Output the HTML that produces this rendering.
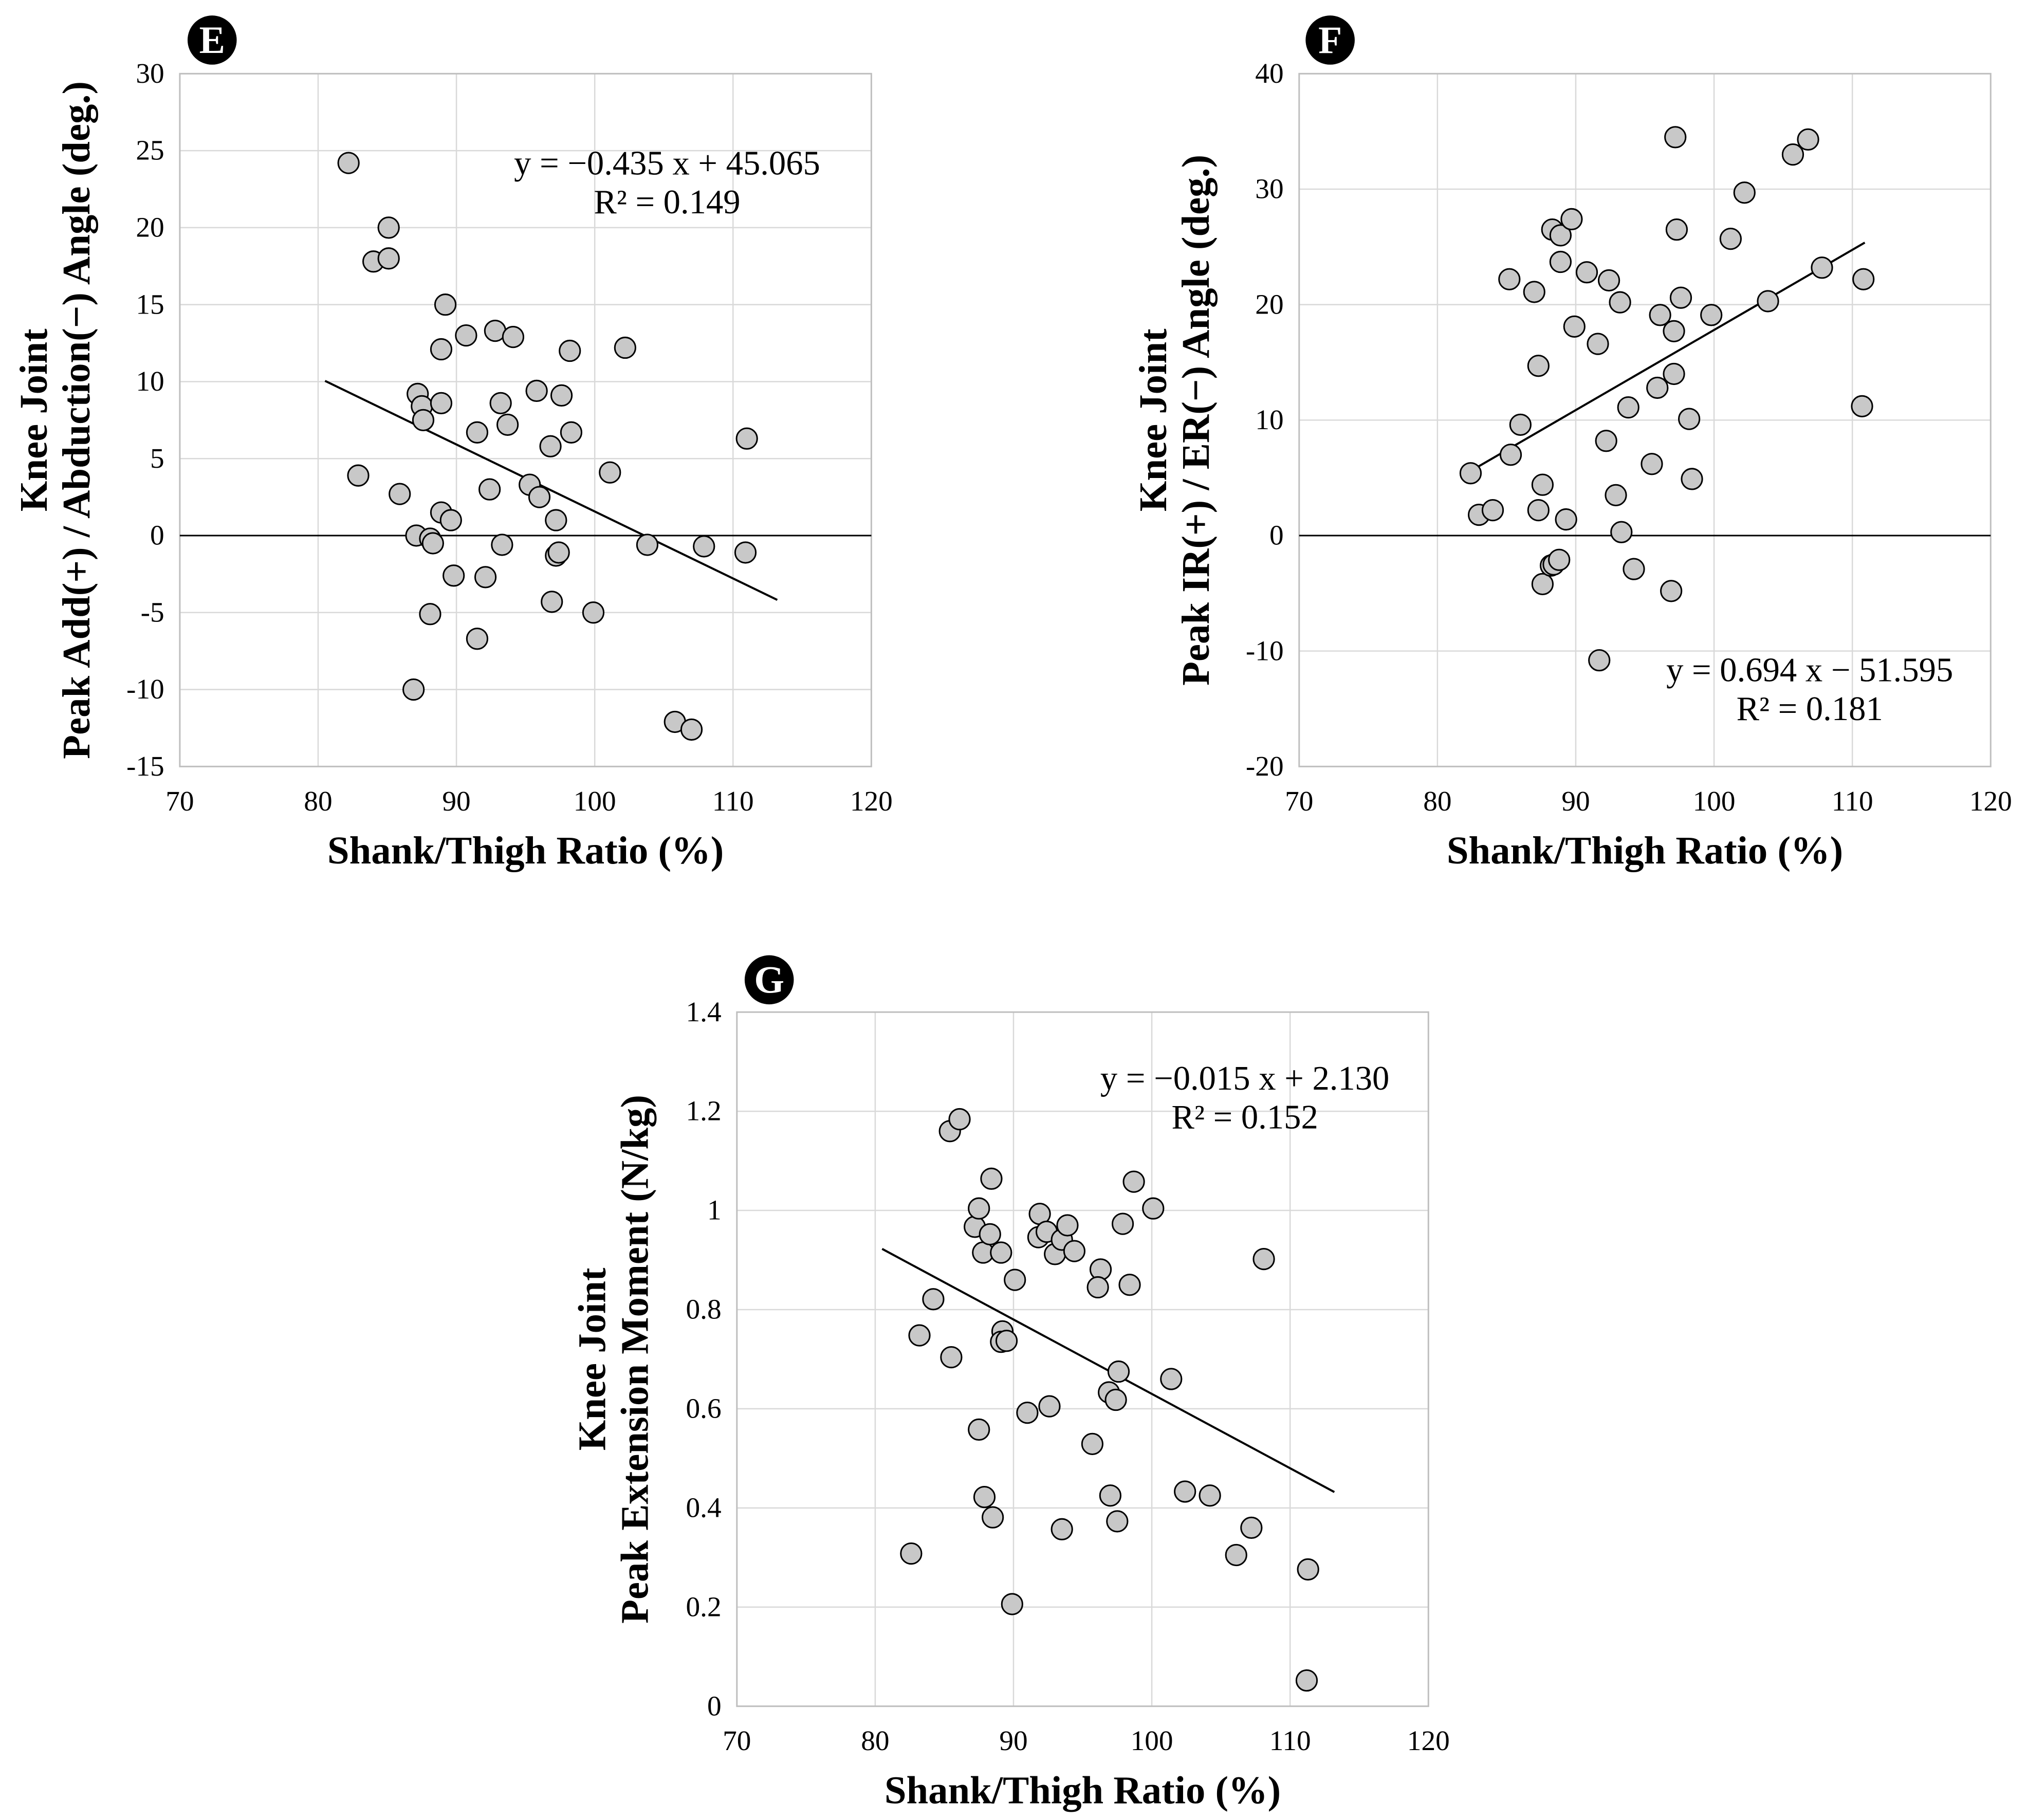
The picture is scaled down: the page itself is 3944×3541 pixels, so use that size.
<!DOCTYPE html>
<html><head><meta charset="utf-8"><style>
html,body{margin:0;padding:0;background:#fff}
svg{display:block}
text{font-family:"Liberation Serif",serif}
</style></head><body>
<svg id="chart" width="3944" height="3541" viewBox="0 0 1568 1408" xmlns="http://www.w3.org/2000/svg">
<rect width="1568" height="1408" fill="#fff"/>
</svg>
<script>
const xTicks=[70,80,90,100,110,120];
const eYTicks=[-15,-10,-5,0,5,10,15,20,25,30];
const fYTicks=[-20,-10,0,10,20,30,40];
const gYTicks=[0,0.2,0.4,0.6,0.8,1,1.2,1.4];
const gYLabels=["0","0.2","0.4","0.6","0.8","1","1.2","1.4"];
const eX=[82.2,85.1,84.0,85.1,89.2,90.7,92.8,94.1,88.9,98.2,102.2,87.2,87.5,87.6,88.9,93.2,95.8,97.6,93.7,91.5,98.3,96.8,101.1,111.0,82.9,85.9,92.4,95.3,96.0,88.9,89.6,97.2,87.1,88.1,88.3,93.3,103.8,107.9,97.2,97.4,110.9,89.8,92.1,96.9,99.9,88.1,91.5,86.9,105.8,107.0];
const eY=[24.2,20.0,17.8,18.0,15.0,13.0,13.3,12.9,12.1,12.0,12.2,9.2,8.4,7.5,8.6,8.6,9.4,9.1,7.2,6.7,6.7,5.8,4.1,6.3,3.9,2.7,3.0,3.3,2.5,1.5,1.0,1.0,0.0,-0.2,-0.5,-0.6,-0.6,-0.7,-1.3,-1.1,-1.1,-2.6,-2.7,-4.3,-5.0,-5.1,-6.7,-10.0,-12.1,-12.6];
const fX=[82.4,83.0,84.0,85.3,86.0,85.2,87.0,87.3,87.6,87.3,87.6,88.3,88.2,88.4,88.9,88.9,88.8,89.7,89.3,89.9,90.8,91.6,92.4,92.2,91.7,93.2,92.9,93.3,93.8,94.2,95.5,96.1,95.9,97.1,97.2,97.3,97.1,97.6,96.9,98.2,98.4,99.8,101.2,102.2,103.9,105.7,106.8,107.8,110.8,110.7];
const fY=[5.4,1.8,2.2,7.0,9.6,22.2,21.1,14.7,4.4,2.2,-4.2,26.5,-2.6,-2.5,26.0,23.7,-2.1,27.4,1.4,18.1,22.8,16.6,22.1,8.2,-10.8,20.2,3.5,0.3,11.1,-2.9,6.2,19.1,12.8,17.7,34.5,26.5,14.0,20.6,-4.8,10.1,4.9,19.1,25.7,29.7,20.3,33.0,34.3,23.2,22.2,11.2];
const gX=[82.6,83.2,84.2,85.4,86.1,85.5,87.2,87.5,87.8,88.4,88.3,87.5,87.9,88.5,89.1,89.2,89.1,89.5,90.1,89.9,91.0,91.9,91.8,92.4,92.6,93.0,93.5,93.9,94.4,93.5,95.7,96.3,96.1,97.0,96.9,97.4,97.6,97.5,97.9,98.4,98.7,100.1,101.4,102.4,104.2,106.1,107.2,108.1,111.3,111.2];
const gY=[0.308,0.748,0.821,1.160,1.184,0.704,0.967,1.004,0.915,1.064,0.952,0.558,0.422,0.381,0.915,0.756,0.735,0.737,0.860,0.206,0.592,0.993,0.946,0.957,0.605,0.912,0.941,0.970,0.918,0.357,0.529,0.881,0.845,0.425,0.633,0.618,0.675,0.373,0.973,0.850,1.058,1.004,0.660,0.433,0.425,0.305,0.360,0.902,0.276,0.052];
const eFit=[-0.435,45.065], fFit=[0.694,-51.595], gFit=[-0.015,2.130];
const eRange=[80.5,113.2], fRange=[82.2,110.9], gRange=[80.5,113.2];

const svg=document.getElementById('chart');
const NS='http://www.w3.org/2000/svg';
function mk(tag,attrs,parent,txt){const e=document.createElementNS(NS,tag);for(const k in attrs)e.setAttribute(k,attrs[k]);if(txt!==undefined)e.textContent=txt;(parent||svg).appendChild(e);return e;}

function panel(o){
  const g=mk('g',{});
  
  
  const sx=v=>o.x0+(v-70)/50*(o.x1-o.x0);
  const sy=v=>o.y1-(v-o.ymin)/(o.ymax-o.ymin)*(o.y1-o.y0);
  xTicks.forEach(t=>{
    const l=mk('line',{x1:sx(t),x2:sx(t),y1:o.y0,y2:o.y1,stroke:'#d9d9d9','stroke-width':1},g);
    
    const tx=mk('text',{x:sx(t),y:o.y1+34,'text-anchor':'middle','font-size':22},g,String(t));
    
  });
  o.yt.forEach((t,i)=>{
    const l=mk('line',{x1:o.x0,x2:o.x1,y1:sy(t),y2:sy(t),stroke:'#d9d9d9','stroke-width':1},g);
    
    const tx=mk('text',{x:o.x0-12,y:sy(t)+7,'text-anchor':'end','font-size':22},g,o.yl?o.yl[i]:String(t));
    
  });
  const b=mk('rect',{x:o.x0,y:o.y0,width:o.x1-o.x0,height:o.y1-o.y0,fill:'none',stroke:'#bfbfbf','stroke-width':1.2},g);
  
  if(o.zero){const z=mk('line',{x1:o.x0,x2:o.x1,y1:sy(0),y2:sy(0),stroke:'#000','stroke-width':1.2},g);
    }
  const r=o.range;
  const fl=mk('line',{x1:sx(r[0]),y1:sy(o.fit[0]*r[0]+o.fit[1]),x2:sx(r[1]),y2:sy(o.fit[0]*r[1]+o.fit[1]),stroke:'#000','stroke-width':1.6},g);
  
  o.xs.forEach((xv,i)=>{
    const c=mk('circle',{cx:sx(xv),cy:sy(o.ys[i]),r:8,fill:'#c8c8c8',stroke:'#000','stroke-width':1.2},g);
    
  });
  const e1=mk('text',{x:o.eqx,y:o.eqy,'text-anchor':'middle','font-size':26.5},g,o.eq);
  
  const e2=mk('text',{x:o.eqx,y:o.eqy+30,'text-anchor':'middle','font-size':26.5},g,o.r2);
  
  const xt=mk('text',{x:(o.x0+o.x1)/2,y:o.y1+75,'text-anchor':'middle','font-size':30.5,'font-weight':'bold'},g,'Shank/Thigh Ratio (%)');
  
  const yc=(o.y0+o.y1)/2;
  const t1=mk('text',{x:0,y:0,transform:`translate(${o.ytx},${yc}) rotate(-90)`,'text-anchor':'middle','font-size':30.5,'font-weight':'bold'},g,'Knee Joint');
  
  const t2=mk('text',{x:0,y:0,transform:`translate(${o.ytx+33},${yc}) rotate(-90)`,'text-anchor':'middle','font-size':30.5,'font-weight':'bold'},g,o.yt2);
  
  const bc=mk('circle',{cx:o.bx,cy:o.by,r:19,fill:'#000'},g);
  
  const bt=mk('text',{x:o.bx,y:o.by+10,'text-anchor':'middle','font-size':30,'font-weight':'bold',fill:'#fff'},g,o.id);
  
}
panel({id:'E',x0:139,x1:674,y0:57,y1:593,ymin:-15,ymax:30,yt:eYTicks,xs:eX,ys:eY,fit:eFit,range:eRange,zero:true,
  eq:'y = \u22120.435 x + 45.065',r2:'R\u00b2 = 0.149',eqx:516,eqy:135,ytx:36,yt2:'Peak Add(+) / Abduction(\u2212) Angle (deg.)',bx:164,by:31});
panel({id:'F',x0:1005,x1:1540,y0:57,y1:593,ymin:-20,ymax:40,yt:fYTicks,xs:fX,ys:fY,fit:fFit,range:fRange,zero:true,
  eq:'y = 0.694 x \u2212 51.595',r2:'R\u00b2 = 0.181',eqx:1400,eqy:527,ytx:902,yt2:'Peak IR(+) / ER(\u2212) Angle (deg.)',bx:1029,by:31});
panel({id:'G',x0:570,x1:1105,y0:783,y1:1320,ymin:0,ymax:1.4,yt:gYTicks,yl:gYLabels,xs:gX,ys:gY,fit:gFit,range:gRange,zero:false,
  eq:'y = \u22120.015 x + 2.130',r2:'R\u00b2 = 0.152',eqx:963,eqy:843,ytx:468,yt2:'Peak Extension Moment (N/kg)',bx:595,by:758});
</script>
</body></html>
